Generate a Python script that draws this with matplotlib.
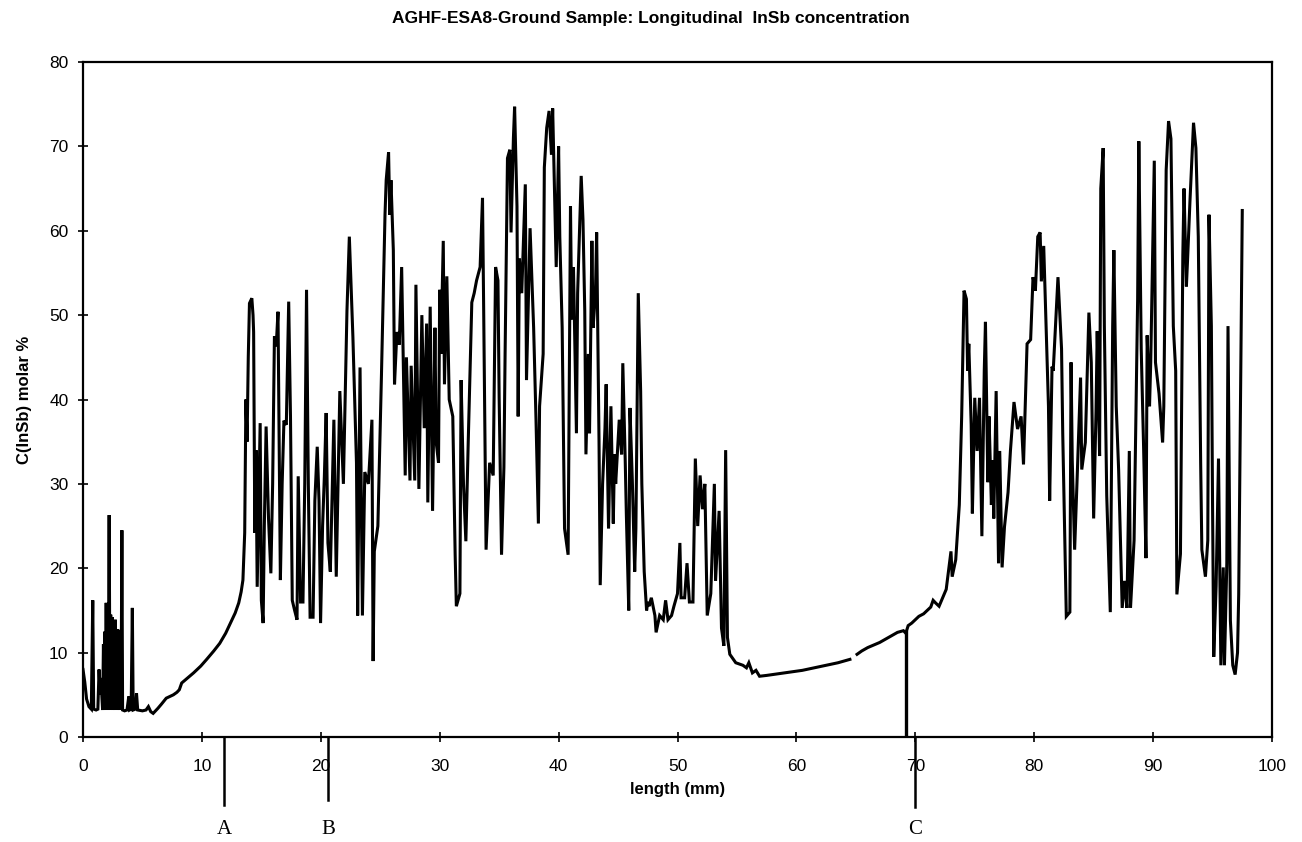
import matplotlib
matplotlib.use("Agg")
import matplotlib.pyplot as plt
import numpy as np

# ---------------- data ----------------
# segment 1: 0 - 14 mm
x_s1 = [0.0, 0.15, 0.3, 0.5, 0.7, 0.82, 0.9, 1.1, 1.25, 1.35, 1.45, 1.5, 1.57, 1.65, 1.72, 1.78,
        1.85, 1.9, 1.95, 2.0, 2.05, 2.12, 2.2, 2.27, 2.33, 2.38, 2.45, 2.52, 2.58, 2.65, 2.72,
        2.78, 2.85, 2.92, 3.0, 3.07, 3.15, 3.2, 3.27, 3.33, 3.5, 3.7, 3.85, 3.92, 4.05, 4.15,
        4.22, 4.4, 4.5, 4.6, 5.0, 5.3, 5.5, 5.7, 5.9, 6.3, 6.6, 7.0, 7.3, 7.6, 7.9, 8.1, 8.3,
        8.8, 9.3, 9.9, 10.4, 11.0, 11.5, 12.0, 12.4, 12.8, 13.1, 13.3, 13.45, 13.6, 13.7, 13.8, 13.9]
y_s1 = [8.0, 6.5, 4.5, 3.6, 3.3, 16.2, 3.3, 3.2, 3.3, 8.0, 5.0, 7.0, 5.2, 3.2, 11.0, 3.2,
        12.5, 3.2, 15.9, 3.5, 14.0, 3.2, 26.3, 3.2, 14.5, 3.5, 14.2, 3.2, 13.5, 3.2, 13.9,
        3.3, 12.8, 3.2, 12.7, 3.2, 11.0, 3.3, 24.5, 3.2, 3.1, 3.2, 4.8, 3.2, 3.3, 15.3,
        3.2, 3.3, 5.2, 3.2, 3.1, 3.2, 3.6, 3.0, 2.8, 3.4, 3.9, 4.6, 4.8, 5.0, 5.3, 5.6, 6.4,
        7.0, 7.6, 8.4, 9.2, 10.2, 11.1, 12.3, 13.5, 14.7, 15.9, 17.2, 18.6, 24.2, 40.0, 35.0, 45.0]

# segment 2: 14 - 27.5 mm
x_s2 = [14.0, 14.2, 14.3, 14.35, 14.45, 14.55, 14.65, 14.9, 15.0, 15.15, 15.25, 15.4, 15.6, 15.8,
        15.95, 16.1, 16.25, 16.4, 16.6, 16.75, 16.9, 17.1, 17.3, 17.45, 17.6, 17.8, 18.0, 18.1,
        18.3, 18.5, 18.65, 18.8, 18.95, 19.1, 19.35, 19.5, 19.7, 19.85, 19.98, 20.15, 20.3, 20.45,
        20.6, 20.8, 21.1, 21.3, 21.6, 21.9, 22.2, 22.4, 22.7, 23.0, 23.1, 23.3, 23.5, 23.7, 24.0,
        24.3, 24.4, 24.5, 24.8, 25.1, 25.4, 25.5, 25.7, 25.8, 25.9, 26.1, 26.2, 26.4, 26.6, 26.8,
        27.1, 27.2, 27.5]
y_s2 = [51.4, 52.0, 50.0, 48.0, 24.2, 34.0, 17.8, 37.2, 16.2, 13.5, 25.0, 36.8, 26.0, 19.4,
        30.0, 47.5, 46.3, 50.4, 18.6, 30.0, 37.5, 37.0, 51.6, 38.0, 16.2, 15.0, 13.9, 30.9,
        16.0, 16.0, 30.0, 53.0, 30.0, 14.2, 14.2, 28.0, 34.4, 28.0, 13.5, 25.0, 30.9, 38.4,
        23.0, 19.6, 37.6, 19.0, 41.0, 30.0, 50.5, 59.3, 47.4, 32.5, 14.4, 43.8, 14.4, 31.4, 30.0,
        37.6, 9.0, 22.0, 25.0, 42.8, 61.9, 66.0, 69.3, 61.9, 66.0, 57.7, 41.8, 48.0, 46.5, 55.7,
        31.0, 45.0, 30.4]

# segment 3: 27.5 - 42 mm
x_s3 = [27.6, 27.9, 28.0, 28.25, 28.5, 28.7, 28.9, 29.0, 29.2, 29.4, 29.6, 29.7, 29.9, 30.0, 30.1,
        30.3, 30.4, 30.6, 30.8, 31.1, 31.3, 31.4, 31.7, 31.8, 32.0, 32.2, 32.4, 32.7, 32.9, 33.1,
        33.4, 33.6, 33.7, 33.9, 34.2, 34.5, 34.7, 34.9, 35.0, 35.2, 35.4, 35.5, 35.7, 35.9, 36.0,
        36.2, 36.3, 36.5, 36.6, 36.7, 36.9, 37.2, 37.3, 37.6, 37.9, 38.1, 38.3, 38.4, 38.7, 38.8,
        39.0, 39.2, 39.4, 39.5, 39.8, 40.0, 40.1, 40.3, 40.5, 40.8, 41.0, 41.1, 41.25, 41.5, 41.6,
        41.9]
y_s3 = [44.0, 30.4, 53.6, 29.4, 50.0, 36.6, 49.0, 27.8, 51.0, 26.8, 48.5, 35.0, 32.5, 53.0, 45.4,
        58.8, 41.8, 54.6, 40.0, 38.0, 21.6, 15.5, 17.0, 42.3, 30.0, 23.2, 35.0, 51.5, 52.6, 54.1,
        55.7, 63.9, 50.5, 22.2, 32.5, 31.0, 55.7, 54.1, 40.2, 21.6, 32.0, 45.4, 68.6, 69.6, 59.8,
        71.0, 74.7, 62.9, 38.0, 56.7, 52.6, 65.5, 42.3, 60.3, 48.5, 37.6, 25.3, 39.2, 45.4, 67.5,
        72.2, 74.2, 69.0, 74.5, 55.7, 70.0, 59.3, 48.5, 24.7, 21.6, 62.9, 49.5, 55.7, 36.0, 52.6,
        66.5]

# segment 4: 42 - 64.5 mm
x_s4 = [42.05, 42.2, 42.3, 42.5, 42.6, 42.8, 42.9, 43.1, 43.2, 43.4, 43.5, 43.7, 43.9, 44.0, 44.2,
        44.4, 44.6, 44.7, 44.8, 45.0, 45.1, 45.3, 45.4, 45.6, 45.7, 45.9, 46.0, 46.2, 46.4, 46.5,
        46.7, 46.9, 47.0, 47.2, 47.4, 47.5, 47.6, 47.8, 48.1, 48.2, 48.5, 48.8, 49.0, 49.2, 49.5,
        49.7, 50.0, 50.2, 50.3, 50.6, 50.8, 51.0, 51.3, 51.5, 51.7, 51.9, 52.1, 52.3, 52.5, 52.8,
        53.1, 53.2, 53.5, 53.7, 53.9, 54.05, 54.2, 54.4, 54.9, 55.5, 55.8, 56.0, 56.3, 56.6, 56.9,
        57.5, 58.5, 59.5, 60.5, 61.5, 62.5, 63.5, 64.0, 64.5]
y_s4 = [61.3, 50.5, 33.5, 45.4, 36.0, 58.8, 48.5, 52.6, 59.8, 35.0, 18.0, 30.0, 36.6, 41.8, 24.7,
        39.2, 25.3, 33.5, 30.0, 35.0, 37.6, 33.5, 44.3, 33.0, 26.3, 15.0, 39.0, 30.4, 19.6, 24.7,
        52.6, 41.0, 30.0, 19.6, 15.0, 16.0, 15.5, 16.5, 14.4, 12.4, 14.4, 13.9, 16.2, 13.9, 14.4,
        15.5, 17.0, 23.0, 16.5, 16.5, 20.6, 16.0, 16.0, 33.0, 25.0, 31.0, 27.0, 30.0, 14.4, 17.0,
        30.0, 18.5, 26.8, 12.9, 10.8, 34.0, 11.8, 9.8, 8.8, 8.5, 8.2, 8.8, 7.6, 7.9, 7.2,
        7.3, 7.5, 7.7, 7.9, 8.2, 8.5, 8.8, 9.0, 9.2]

# segment 5: 65 - 97.5 mm (after the small break)
x_s5 = [65.1, 65.5, 66.0, 66.5, 67.0, 67.5, 68.0, 68.5, 69.0, 69.2, 69.4, 69.7, 70.0, 70.3, 70.7,
        71.0, 71.3, 71.5, 71.7, 72.0, 72.3, 72.6, 73.0, 73.1, 73.4, 73.7, 73.9, 74.1, 74.3, 74.4,
        74.5, 74.7, 74.8, 75.0, 75.2, 75.4, 75.6, 75.8, 75.9, 76.1, 76.2, 76.4, 76.5, 76.6, 76.8,
        77.0, 77.1, 77.3, 77.5, 77.8, 78.0, 78.3, 78.6, 78.9, 79.1, 79.2, 79.4, 79.7, 79.9, 80.1,
        80.3, 80.5, 80.6, 80.8, 81.0, 81.2, 81.3, 81.5, 81.6, 82.0, 82.3, 82.4, 82.7, 83.0, 83.1,
        83.2, 83.4, 83.6, 83.9, 84.0, 84.3, 84.6, 84.8, 85.0, 85.2, 85.3, 85.5, 85.6, 85.8, 85.9,
        86.1, 86.4, 86.6, 86.7, 86.9, 87.1, 87.4, 87.6, 87.8, 88.0, 88.1, 88.4, 88.7, 88.8, 89.0,
        89.2, 89.4, 89.5, 89.7, 89.8, 90.1, 90.2, 90.5, 90.8, 90.9, 91.1, 91.3, 91.5, 91.7, 91.9,
        92.0, 92.3, 92.5, 92.6, 92.8, 92.9, 93.1, 93.3, 93.4, 93.6, 93.8, 94.0, 94.1, 94.4, 94.6,
        94.7, 94.9, 95.0, 95.1, 95.3, 95.5, 95.7, 95.9, 96.0, 96.2, 96.3, 96.5, 96.7, 96.9, 97.1,
        97.2, 97.5]
y_s5 = [9.8, 10.2, 10.6, 10.9, 11.2, 11.6, 12.0, 12.4, 12.6, 12.3, 13.2, 13.5, 13.9, 14.3, 14.6,
        15.0, 15.4, 16.2, 15.9, 15.5, 16.5, 17.5, 22.0, 19.0, 21.0, 27.5, 38.0, 52.9, 51.9, 43.4,
        46.6, 37.0, 26.5, 40.2, 33.9, 40.2, 23.8, 43.4, 49.2, 30.2, 38.0, 27.5, 32.8, 25.9, 41.0,
        20.6, 33.9, 20.1, 24.9, 29.0, 33.9, 39.7, 36.5, 38.0, 32.3, 37.0, 46.6, 47.1, 54.5, 52.9,
        59.3, 59.8, 54.0, 58.2, 48.7, 39.2, 28.0, 43.9, 43.4, 54.5, 46.0, 36.0, 14.3, 14.8, 44.4,
        32.8, 22.2, 30.2, 42.6, 31.7, 34.9, 50.3, 44.4, 25.9, 38.6, 48.1, 33.3, 65.0, 69.8, 48.7,
        28.6, 14.8, 48.7, 57.7, 39.2, 31.7, 15.3, 18.5, 15.3, 33.9, 15.3, 23.3, 51.9, 70.6, 46.0,
        34.4, 21.2, 47.6, 39.2, 44.4, 68.3, 44.4, 40.7, 34.9, 39.2, 67.2, 73.0, 70.9, 48.7, 43.4,
        16.9, 21.7, 57.1, 65.0, 53.4, 56.6, 63.5, 69.8, 72.8, 69.8, 59.3, 32.5, 22.2, 19.0, 23.3,
        61.9, 48.7, 27.5, 9.5, 17.9, 33.0, 8.5, 20.1, 8.5, 20.6, 48.7, 13.8, 8.5, 7.4, 10.0,
        16.9, 62.4]

# sample position markers (mm)
marker_names = ["A", "B", "C"]
marker_pos = [11.85, 20.6, 70.0]
inner_line_x = 69.2
inner_line_top = 12.5

title = "AGHF-ESA8-Ground Sample: Longitudinal  InSb concentration"
xlabel = "length (mm)"
ylabel = "C(InSb) molar %"
xticks = list(range(0, 101, 10))
yticks = list(range(0, 81, 10))

# ---------------- plot ----------------
plt.rcParams['font.family'] = ['Liberation Sans', 'DejaVu Sans']
fig = plt.figure(figsize=(13.02, 8.42), dpi=100)
ax = fig.add_axes([83/1302, 1-737/842, (1272-83)/1302, (737-62)/842])

xa = x_s1 + x_s2 + x_s3 + x_s4
ya = y_s1 + y_s2 + y_s3 + y_s4
ax.plot(xa, ya, color='black', lw=2.2, solid_joinstyle='miter')
ax.plot(x_s5, y_s5, color='black', lw=2.2, solid_joinstyle='miter')
ax.plot([inner_line_x, inner_line_x], [0, inner_line_top], color='black', lw=2.4)

ax.set_xlim(0, 100)
ax.set_ylim(0, 80)
ax.set_xticks(xticks)
ax.set_yticks(yticks)
ax.tick_params(direction='inout', length=7, width=1.2, labelsize=12.5)
ax.tick_params(axis='x', pad=12)
ax.tick_params(axis='y', pad=7)
for s in ax.spines.values():
    s.set_linewidth(1.6)

ax.set_xlabel(xlabel, fontsize=12, fontweight='bold', labelpad=6)
ax.set_ylabel(ylabel, fontsize=12, fontweight='bold', labelpad=12)
fig.text(0.5, 1-18/842, title, ha='center', va='center', fontsize=12.5, fontweight='bold')

ends = [-8.1, -7.5, -8.3]
for name, pos, e in zip(marker_names, marker_pos, ends):
    ax.plot([pos, pos], [0, e], color='black', lw=1.8, clip_on=False)
    ax.text(pos, -11.0, name, ha='center', va='center', fontsize=15,
            family=['Liberation Serif', 'DejaVu Serif'], clip_on=False)

fig.savefig("out.png", dpi=100)
